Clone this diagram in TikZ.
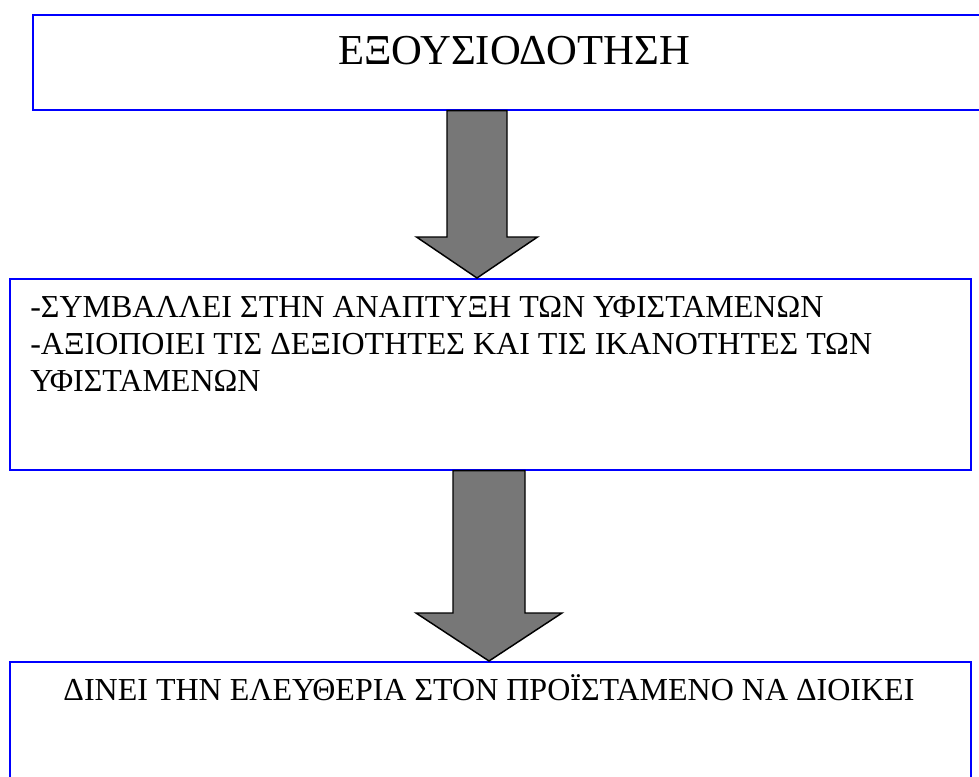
\documentclass[tikz,border=0pt]{standalone}
\usepackage{fontspec}
\setmainfont{Liberation Serif}
\usetikzlibrary{calc}
\definecolor{arrowgray}{RGB}{119,119,119}
\definecolor{boxblue}{RGB}{0,0,255}
\begin{document}
\begin{tikzpicture}[x=0.75pt,y=-0.75pt,
  box/.style={draw=boxblue, line width=1.2pt, fill=white, rectangle,
    inner sep=0pt, anchor=north west},
  blockarrow/.style={draw=black, line width=1.1pt, fill=arrowgray, line join=miter},
  bodytext/.style={inner sep=0pt, font=\fontsize{24pt}{27.75pt}\selectfont},
  titletext/.style={inner sep=0pt, font=\fontsize{32pt}{40pt}\selectfont}]
\useasboundingbox (0,0) rectangle (979,776);
\clip (0,0) rectangle (979,776);

% the three boxes
\node[box, minimum width=726pt, minimum height=71.25pt] (b1) at (32,14) {};
\node[box, minimum width=720.75pt, minimum height=143.25pt] (b2) at (9,278) {};
\node[box, minimum width=720.75pt, minimum height=150pt] (b3) at (9,661) {};

% texts
\node[titletext, anchor=base] (t1) at (514,64) {ΕΞΟΥΣΙΟΔΟΤΗΣΗ};
\node[bodytext, anchor=base west] (t2a) at (30,317) {-ΣΥΜΒΑΛΛΕΙ ΣΤΗΝ ΑΝΑΠΤΥΞΗ ΤΩΝ ΥΦΙΣΤΑΜΕΝΩΝ};
\node[bodytext, anchor=base west] (t2b) at (30,354) {-ΑΞΙΟΠΟΙΕΙ ΤΙΣ ΔΕΞΙΟΤΗΤΕΣ ΚΑΙ ΤΙΣ ΙΚΑΝΟΤΗΤΕΣ ΤΩΝ};
\node[bodytext, anchor=base west] (t2c) at (30,391) {ΥΦΙΣΤΑΜΕΝΩΝ};
\node[bodytext, anchor=base] (t3) at (489,700) {ΔΙΝΕΙ ΤΗΝ ΕΛΕΥΘΕΡΙΑ ΣΤΟΝ ΠΡΟΪΣΤΑΜΕΝΟ ΝΑ ΔΙΟΙΚΕΙ};

% block arrows between the boxes
\coordinate (a1top) at ($(b1.south west)+(445,0)$);
\coordinate (a1tip) at (a1top |- b2.north);
\draw[blockarrow]
  ($(a1top)+(-30,0)$) -- ($(a1top)+(30,0)$) -- ($(a1tip)+(30,-41)$) -- ($(a1tip)+(60.5,-41)$)
  -- (a1tip) -- ($(a1tip)+(-60.5,-41)$) -- ($(a1tip)+(-30,-41)$) -- cycle;

\coordinate (a2top) at ($(b2.south west)+(480,0)$);
\coordinate (a2tip) at (a2top |- b3.north);
\draw[blockarrow]
  ($(a2top)+(-36,0)$) -- ($(a2top)+(36,0)$) -- ($(a2tip)+(36,-48)$) -- ($(a2tip)+(73,-48)$)
  -- (a2tip) -- ($(a2tip)+(-73,-48)$) -- ($(a2tip)+(-36,-48)$) -- cycle;
\end{tikzpicture}
\end{document}
